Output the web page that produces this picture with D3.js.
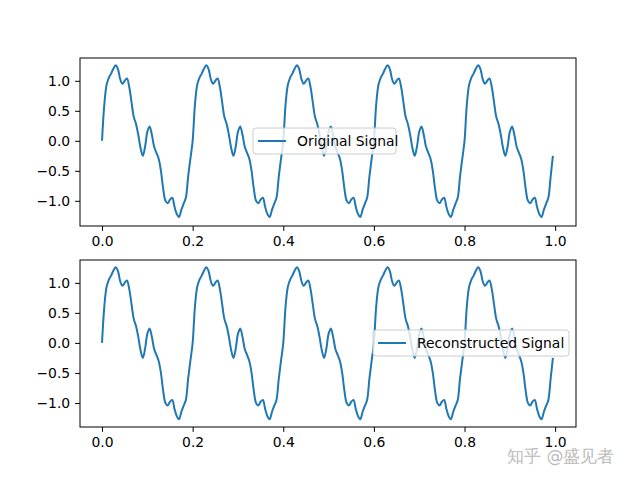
<!DOCTYPE html><html><head><meta charset="utf-8"><script src="https://cdn.jsdelivr.net/npm/d3@7"></script>
<style>body{margin:0;background:#fff}text{font-family:"DejaVu Sans";}</style></head><body><svg id="c" width="640" height="480"></svg><script>
const times = d3.range(200).map(i => i * 0.005);
const originalSignal = [
0,0.6,0.93,1.05,1.12,1.2,1.26,1.2,1.03,0.95,1.0,1.04,0.9,0.65,0.4,0.28,0.1,-0.12,-0.25,-0.1,0.15,0.24,0.1,-0.1,-0.2,-0.3,-0.5,-0.8,-1.0,-1.04,-0.98,-0.95,-1.1,-1.22,-1.27,-1.15,-1.05,-0.95,-0.6,-0.3,
0,0.6,0.93,1.05,1.12,1.2,1.26,1.2,1.03,0.95,1.0,1.04,0.9,0.65,0.4,0.28,0.1,-0.12,-0.25,-0.1,0.15,0.24,0.1,-0.1,-0.2,-0.3,-0.5,-0.8,-1.0,-1.04,-0.98,-0.95,-1.1,-1.22,-1.27,-1.15,-1.05,-0.95,-0.6,-0.3,
0,0.6,0.93,1.05,1.12,1.2,1.26,1.2,1.03,0.95,1.0,1.04,0.9,0.65,0.4,0.28,0.1,-0.12,-0.25,-0.1,0.15,0.24,0.1,-0.1,-0.2,-0.3,-0.5,-0.8,-1.0,-1.04,-0.98,-0.95,-1.1,-1.22,-1.27,-1.15,-1.05,-0.95,-0.6,-0.3,
0,0.6,0.93,1.05,1.12,1.2,1.26,1.2,1.03,0.95,1.0,1.04,0.9,0.65,0.4,0.28,0.1,-0.12,-0.25,-0.1,0.15,0.24,0.1,-0.1,-0.2,-0.3,-0.5,-0.8,-1.0,-1.04,-0.98,-0.95,-1.1,-1.22,-1.27,-1.15,-1.05,-0.95,-0.6,-0.3,
0,0.6,0.93,1.05,1.12,1.2,1.26,1.2,1.03,0.95,1.0,1.04,0.9,0.65,0.4,0.28,0.1,-0.12,-0.25,-0.1,0.15,0.24,0.1,-0.1,-0.2,-0.3,-0.5,-0.8,-1.0,-1.04,-0.98,-0.95,-1.1,-1.22,-1.27,-1.15,-1.05,-0.95,-0.6,-0.25];
const reconstructedSignal = originalSignal.slice();
const xTicks = [0, 0.2, 0.4, 0.6, 0.8, 1.0];
const yTicks = [-1.0, -0.5, 0.0, 0.5, 1.0];
const svg = d3.select("#c");
const panels = [
 {top:58,bottom:226,dom:[-1.42,1.38],data:originalSignal,label:"Original Signal",lx:253,ly:128,lw:143},
 {top:260,bottom:427,dom:[-1.40,1.38],data:reconstructedSignal,label:"Reconstructed Signal",lx:373,ly:330,lw:196}
];
const x = d3.scaleLinear().domain([-0.0486,1.046]).range([80,576]);
panels.forEach(p=>{
 const y = d3.scaleLinear().domain(p.dom).range([p.bottom,p.top]);
 const g = svg.append("g");
 g.append("g").attr("transform",`translate(0,${p.bottom})`).call(d3.axisBottom(x).tickValues(xTicks).tickFormat(d3.format(".1f")).tickSizeOuter(0).tickSize(4.9).tickPadding(4.9));
 g.append("g").attr("transform","translate(80,0)").call(d3.axisLeft(y).tickValues(yTicks).tickFormat(d3.format(".1f")).tickSizeOuter(0).tickSize(4.9).tickPadding(4.9));
 g.selectAll(".domain").remove();
 g.selectAll(".tick text").attr("font-size",13.9).attr("fill","#000").attr("font-family","DejaVu Sans");
 g.selectAll(".tick line").attr("stroke","#000");
 g.append("path").datum(p.data).attr("fill","none").attr("stroke","#1f77b4").attr("stroke-width",2)
  .attr("d",d3.line().x((d,i)=>x(times[i])).y(d=>y(d)).curve(d3.curveCatmullRom));
 g.append("rect").attr("x",80).attr("y",p.top).attr("width",496).attr("height",p.bottom-p.top).attr("fill","none").attr("stroke","#000").attr("stroke-width",1);
 g.append("rect").attr("x",p.lx).attr("y",p.ly).attr("width",p.lw).attr("height",26).attr("rx",3).attr("fill","#fff").attr("fill-opacity",0.8).attr("stroke","#ccc");
 g.append("line").attr("x1",p.lx+5).attr("x2",p.lx+33).attr("y1",p.ly+13).attr("y2",p.ly+13).attr("stroke","#1f77b4").attr("stroke-width",2);
 g.append("text").attr("x",p.lx+44).attr("y",p.ly+18).attr("font-size",13.9).text(p.label);
});
svg.append("text").attr("x",507).attr("y",462).attr("font-size",17).attr("fill","#bbb").attr("font-family","Noto Sans CJK SC").text("知乎 @盛见者");
</script></body></html>
